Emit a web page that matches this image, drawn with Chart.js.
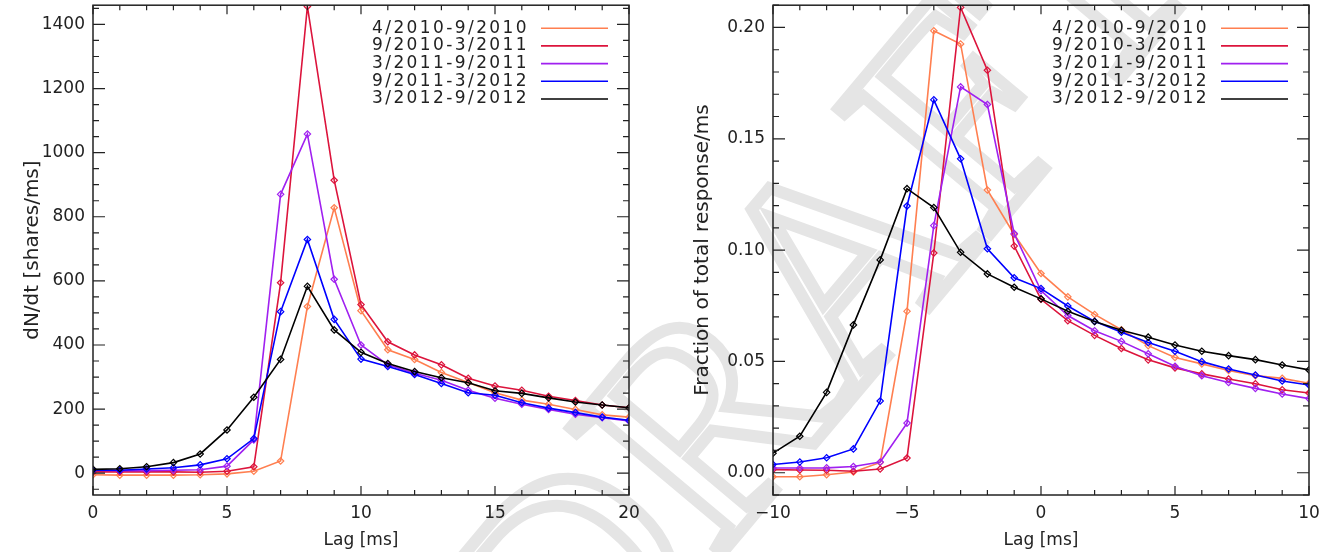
<!DOCTYPE html>
<html>
<head>
<meta charset="utf-8">
<script src="https://cdn.jsdelivr.net/npm/chart.js@4.4.1/dist/chart.umd.min.js"></script>
<style>
html, body { margin: 0; padding: 0; background: #fff; }
body { width: 1333px; height: 552px; position: relative; overflow: hidden; }
#wm {
    position: absolute; left: 815px; top: 285px;
    font-family: "Liberation Serif"; font-size: 300px; line-height: 1;
    color: transparent; -webkit-text-stroke: 12px #e5e5e5;
    transform: translate(-50%, -50%) rotate(-50deg);
    white-space: nowrap; z-index: 0;
}
.box { position: absolute; top: 0; z-index: 1; }
</style>
</head>
<body>
<div id="wm">DRAFT</div>
<canvas id="left" class="box" width="640" height="552" style="left:0"></canvas>
<canvas id="right" class="box" width="640" height="552" style="left:680px"></canvas>
<script>
// periods, same colours in both panels
const periods = ["4/2010-9/2010", "9/2010-3/2011", "3/2011-9/2011", "9/2011-3/2012", "3/2012-9/2012"];
const colors = ["#ff7f50", "#dc143c", "#a020f0", "#0000ff", "#000000"];

// left panel: dN/dt vs lag 0..20 ms
const lagsLeft = [0, 1, 2, 3, 4, 5, 6, 7, 8, 9, 10, 11, 12, 13, 14, 15, 16, 17, 18, 19, 20];
const rate1 = [-5, -6, -6, -6, -5, -2, 6, 38, 520, 828, 507, 385, 355, 314, 283, 251, 228, 215, 199, 182, 175];
const rate2 = [4, 4, 4, 4, 3, 6, 20, 594, 1456, 914, 526, 410, 369, 338, 296, 272, 259, 240, 227, 213, 204];
const rate3 = [9, 8, 8, 9, 11, 22, 104, 870, 1058, 605, 400, 338, 312, 290, 259, 234, 215, 199, 184, 173, 163];
const rate4 = [9, 9, 13, 17, 26, 45, 108, 504, 729, 480, 356, 333, 308, 280, 251, 243, 220, 203, 189, 175, 165];
const rate5 = [12, 14, 20, 33, 60, 135, 237, 355, 583, 447, 377, 342, 317, 298, 282, 257, 249, 235, 222, 213, 204];

// right panel: fraction of total response vs lag -10..10 ms
const lagsRight = [-10, -9, -8, -7, -6, -5, -4, -3, -2, -1, 0, 1, 2, 3, 4, 5, 6, 7, 8, 9, 10];
const frac1 = [-0.0018, -0.0018, -0.0009, 0.0003, 0.0046, 0.0725, 0.1985, 0.1926, 0.1270, 0.107, 0.0895, 0.0790, 0.0711, 0.0642, 0.0571, 0.0518, 0.0489, 0.0459, 0.0436, 0.0424, 0.0402];
const frac2 = [0.0014, 0.0012, 0.0011, 0.0007, 0.0017, 0.0066, 0.0987, 0.209, 0.1808, 0.1018, 0.0779, 0.0683, 0.0617, 0.0558, 0.0507, 0.0471, 0.0444, 0.0421, 0.0400, 0.0373, 0.0358];
const frac3 = [0.0021, 0.0021, 0.0022, 0.0028, 0.0048, 0.0223, 0.1110, 0.1733, 0.1654, 0.1074, 0.0818, 0.0706, 0.0638, 0.0590, 0.0534, 0.0478, 0.0436, 0.0405, 0.0379, 0.0354, 0.0333];
const frac4 = [0.0037, 0.0048, 0.0067, 0.0107, 0.0322, 0.1198, 0.1675, 0.1410, 0.1006, 0.0876, 0.0827, 0.0749, 0.0680, 0.0631, 0.0585, 0.0546, 0.0499, 0.0466, 0.0439, 0.0412, 0.0394];
const frac5 = [0.0088, 0.0164, 0.0361, 0.0664, 0.0956, 0.1276, 0.1191, 0.0990, 0.0893, 0.0833, 0.0781, 0.0725, 0.0679, 0.0640, 0.0609, 0.0574, 0.0546, 0.0526, 0.0508, 0.0484, 0.0462];

const FONT = "DejaVu Sans";
const TEXT = "#222";

// box round the plot with inward ticks on all four sides
const boxTicks = {
    id: "boxTicks",
    afterDraw(chart, args, o) {
        const ctx = chart.ctx;
        const a = chart.chartArea;
        const xs = chart.scales.x, ys = chart.scales.y;
        ctx.save();
        ctx.strokeStyle = TEXT;
        ctx.lineWidth = 1.5;
        ctx.strokeRect(a.left, a.top, a.right - a.left, a.bottom - a.top);
        ctx.lineWidth = 1.2;
        ctx.beginPath();
        for (let k = Math.ceil(xs.min / o.xMinor); k * o.xMinor <= xs.max + 1e-9; k++) {
            const px = xs.getPixelForValue(k * o.xMinor);
            const len = (k % o.xEvery === 0) ? 9 : 5;
            ctx.moveTo(px, a.bottom); ctx.lineTo(px, a.bottom - len);
            ctx.moveTo(px, a.top); ctx.lineTo(px, a.top + len);
        }
        for (let k = Math.ceil(ys.min / o.yMinor - 1e-9); k * o.yMinor <= ys.max + 1e-9; k++) {
            const py = ys.getPixelForValue(k * o.yMinor);
            const len = (k % o.yEvery === 0) ? 12 : 6;
            ctx.moveTo(a.left, py); ctx.lineTo(a.left + len, py);
            ctx.moveTo(a.right, py); ctx.lineTo(a.right - len, py);
        }
        ctx.stroke();
        ctx.restore();
    }
};

// legend: text then a short line, top right
const lineLegend = {
    id: "lineLegend",
    afterDraw(chart) {
        const ctx = chart.ctx;
        const r = chart.chartArea.right, t = chart.chartArea.top;
        ctx.save();
        ctx.font = "17px '" + FONT + "'";
        ctx.letterSpacing = "2.4px";
        ctx.textAlign = "right";
        ctx.textBaseline = "middle";
        chart.data.datasets.forEach((ds, i) => {
            const y = t + 23 + i * 17.7;
            ctx.fillStyle = TEXT;
            ctx.fillText(ds.label, r - 100, y);
            ctx.strokeStyle = ds.borderColor;
            ctx.lineWidth = 1.6;
            ctx.beginPath();
            ctx.moveTo(r - 88, y);
            ctx.lineTo(r - 21, y);
            ctx.stroke();
        });
        ctx.restore();
    }
};

function makeDatasets(lags, series) {
    return series.map((vals, i) => ({
        label: periods[i],
        data: lags.map((x, j) => ({ x: x, y: vals[j] })),
        borderColor: colors[i],
        borderWidth: 1.6,
        pointStyle: "rectRot",
        pointRadius: 3.2,
        pointBorderWidth: 1.2,
        pointBorderColor: colors[i],
        pointBackgroundColor: "rgba(0,0,0,0)",
        tension: 0,
        order: 5 - i
    }));
}

function drawPanel(canvas, lags, series, cfg) {
    return new Chart(canvas, {
        type: "line",
        data: { datasets: makeDatasets(lags, series) },
        options: {
            responsive: false,
            animation: false,
            devicePixelRatio: 1,
            layout: { padding: { top: 5, right: 11, left: 0, bottom: 0 } },
            plugins: {
                legend: { display: false },
                tooltip: { enabled: false },
                boxTicks: cfg.box
            },
            scales: {
                x: {
                    type: "linear",
                    min: cfg.xMin, max: cfg.xMax,
                    grid: { display: false, drawTicks: false },
                    border: { display: false },
                    ticks: {
                        stepSize: 5, padding: 8, color: TEXT,
                        font: { family: FONT, size: 17 },
                        maxRotation: 0,
                        callback: v => (v < 0 ? "\u2212" : "") + Math.abs(v)
                    },
                    title: {
                        display: true, text: "Lag [ms]", color: TEXT,
                        font: { family: FONT, size: 17 },
                        padding: { top: 0, bottom: 1 }
                    },
                    afterFit: s => { s.height = 57; s.paddingLeft = 0; s.paddingRight = 0; }
                },
                y: {
                    min: cfg.yMin, max: cfg.yMax,
                    grid: { display: false, drawTicks: false },
                    border: { display: false },
                    ticks: {
                        stepSize: cfg.yStep, includeBounds: false, padding: 8, color: TEXT,
                        font: { family: FONT, size: 17 },
                        callback: cfg.yFmt
                    },
                    title: {
                        display: true, text: cfg.yTitle, color: TEXT,
                        font: { family: FONT, size: 20 },
                        padding: { top: cfg.yTitlePad, bottom: 0 }
                    },
                    afterFit: s => { s.width = 93; s.paddingTop = 0; s.paddingBottom = 0; }
                }
            }
        },
        plugins: [boxTicks, lineLegend]
    });
}

drawPanel(document.getElementById("left"), lagsLeft, [rate1, rate2, rate3, rate4, rate5], {
    xMin: 0, xMax: 20,
    yMin: -68, yMax: 1460, yStep: 200,
    yFmt: v => String(v),
    yTitle: "dN/dt [shares/ms]", yTitlePad: 21,
    box: { xMinor: 1, xEvery: 5, yMinor: 50, yEvery: 4 }
});

drawPanel(document.getElementById("right"), lagsRight, [frac1, frac2, frac3, frac4, frac5], {
    xMin: -10, xMax: 10,
    yMin: -0.01, yMax: 0.21, yStep: 0.05,
    yFmt: v => Math.abs(v).toFixed(2),
    yTitle: "Fraction of total response/ms", yTitlePad: 11,
    box: { xMinor: 1, xEvery: 5, yMinor: 0.01, yEvery: 5 }
});
</script>
</body>
</html>
